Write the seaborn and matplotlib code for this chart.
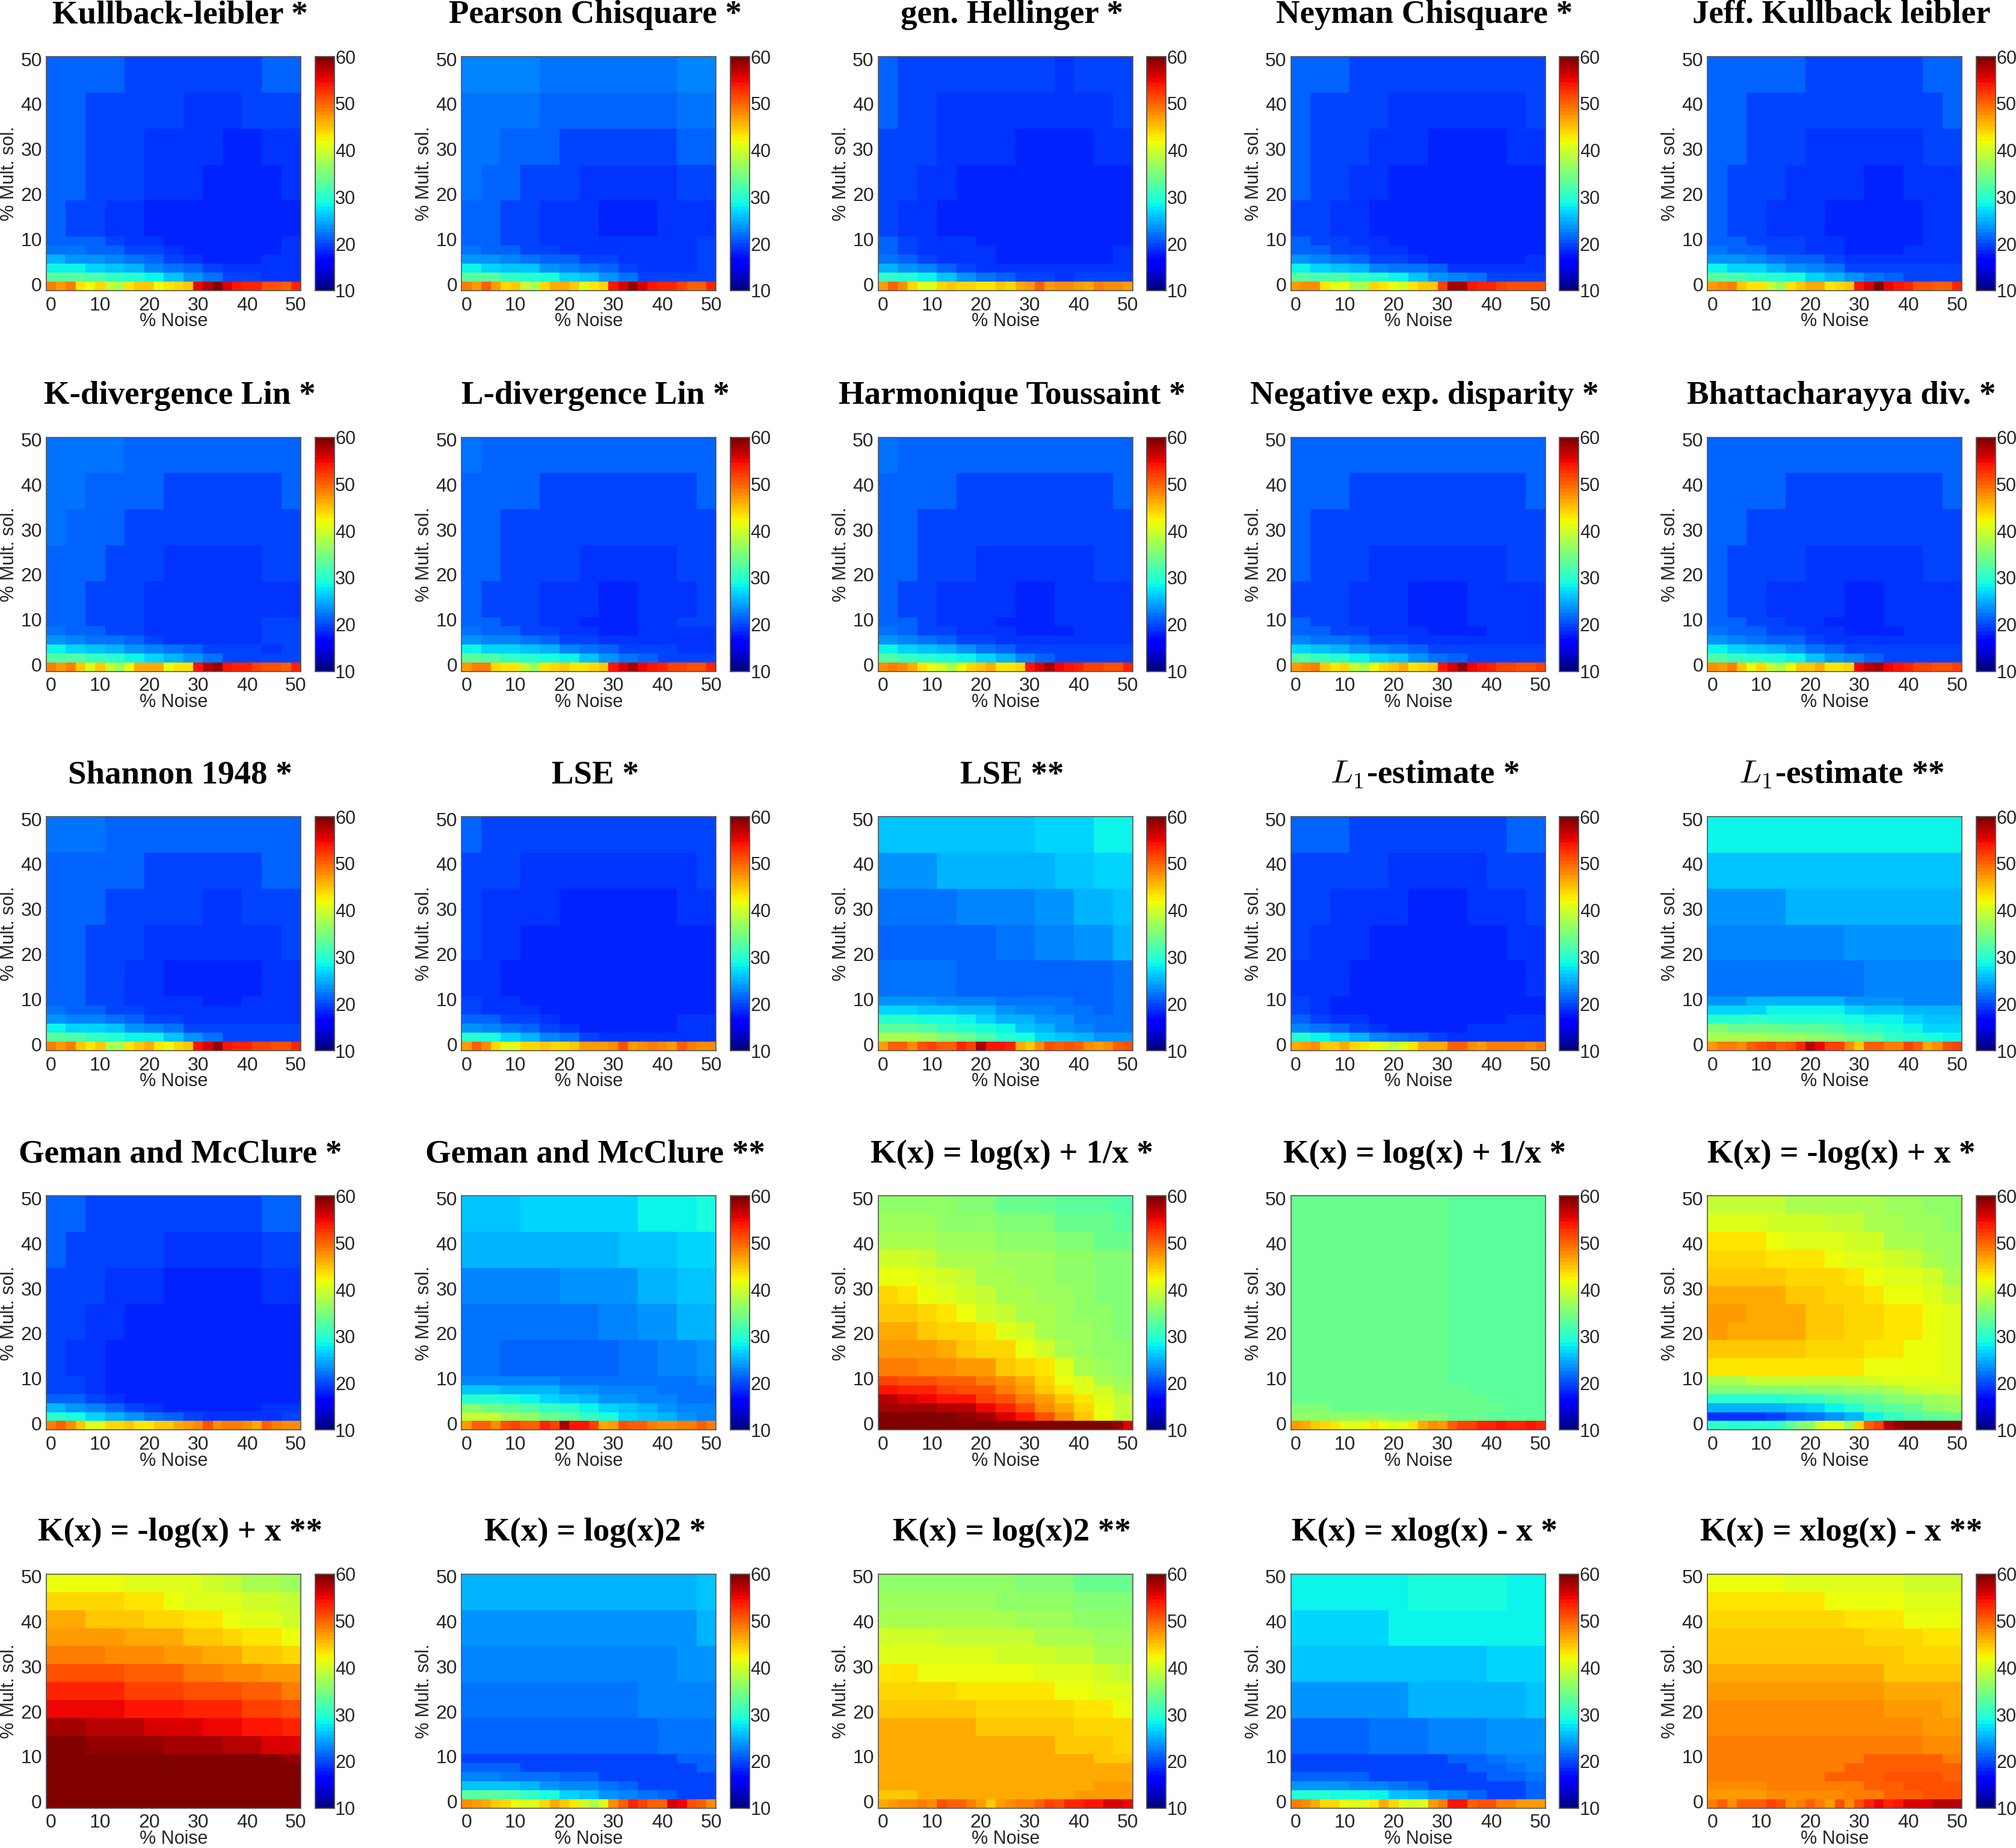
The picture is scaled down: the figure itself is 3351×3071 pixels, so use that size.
#!/usr/bin/env python
# grid of 25 robust estimator error maps, % noise vs % multiple solutions
import matplotlib
matplotlib.use('Agg')
import matplotlib.pyplot as plt
import numpy as np
import pandas as pd
import seaborn as sns

noise_levels = list(range(0, 52, 2))
mult_levels = list(range(50, -2, -2))
tick_values = [0, 10, 20, 30, 40, 50]
cbar_values = [10, 20, 30, 40, 50, 60]

titles = ['Kullback-leibler *', 'Pearson Chisquare *', 'gen. Hellinger *', 'Neyman Chisquare *', 'Jeff. Kullback leibler',
          'K-divergence Lin *', 'L-divergence Lin *', 'Harmonique Toussaint *', 'Negative exp. disparity *', 'Bhattacharayya div. *',
          'Shannon 1948 *', 'LSE *', 'LSE **', '$L_1$-estimate *', '$L_1$-estimate **',
          'Geman and McClure *', 'Geman and McClure **', 'K(x) = log(x) + 1/x *', 'K(x) = log(x) + 1/x *', 'K(x) = -log(x) + x *',
          'K(x) = -log(x) + x **', 'K(x) = log(x)2 *', 'K(x) = log(x)2 **', 'K(x) = xlog(x) - x *', 'K(x) = xlog(x) - x **']

# value along the 0 % multiple solutions row, one per noise level
edge_kullback = [49,47,49,43,42,44,39,38,43,45,45,42,43,44,45,55,57,60,56,54,53,53,51,51,50,53]
edge_pearson = [49,47,50,47,44,45,39,38,44,46,46,45,41,43,44,54,56,59,56,54,53,53,52,50,50,53]
edge_hellinger = [47,50,48,44,41,41,44,45,44,44,43,43,45,44,46,47,50,47,48,48,47,46,49,48,48,47]
edge_neyman = [47,48,48,43,41,42,38,38,44,43,42,40,43,45,45,52,58,58,54,53,53,52,51,51,51,51]
edge_jeff = [47,48,49,45,43,43,39,37,43,45,46,46,43,44,45,54,56,60,55,54,53,51,51,50,50,53]
edge_kdiv = [49,47,49,45,41,45,39,37,42,46,46,46,42,43,43,54,57,59,54,53,53,52,51,51,50,53]
edge_ldiv = [47,49,49,44,43,43,39,37,43,44,45,43,43,44,45,54,56,58,55,54,53,52,52,51,51,53]
edge_harm = [48,49,48,46,43,42,40,38,42,44,45,46,43,43,44,54,56,58,55,54,53,52,52,51,51,53]
edge_negexp = [47,48,49,45,43,44,39,38,42,44,45,46,43,44,45,54,56,59,55,54,53,52,52,51,51,52]
edge_bhatt = [48,47,49,45,42,44,39,38,42,45,45,46,43,43,44,55,57,58,55,54,53,52,52,51,51,52]
edge_shannon = [49,47,49,45,43,45,38,38,43,45,46,43,42,44,45,54,56,59,54,53,53,52,52,51,51,53]
edge_lse1 = [47,50,48,44,41,41,44,44,45,44,44,45,47,47,47,48,51,47,48,49,48,47,50,49,48,48]
edge_lse2 = [47,50,50,48,51,52,50,50,53,52,58,54,54,53,46,45,48,51,50,51,50,48,47,48,50,51]
edge_l1a = [46,47,48,45,45,46,44,43,42,41,39,41,43,46,46,46,50,50,48,47,49,49,49,49,48,49]
edge_l1b = [47,49,49,48,50,51,52,50,51,53,57,55,52,52,48,45,50,50,49,49,52,50,46,48,51,52]
edge_geman1 = [49,50,48,45,41,41,44,44,45,43,43,45,45,46,47,48,51,48,49,49,48,46,50,49,48,48]
edge_geman2 = [47,50,50,48,51,52,50,50,53,52,58,54,54,52,46,47,51,50,50,49,48,48,49,49,50,49]
edge_invlog1 = [60,60,60,60,60,60,60,60,60,60,60,60,60,60,60,60,60,60,60,60,60,60,60,60,59,56]
edge_invlog2 = [47,46,45,44,43,42,41,42,43,42,41,42,43,46,48,47,50,52,52,53,53,54,53,53,54,53]
edge_neglog1 = [30,31,30,30,30,31,30,31,33,35,36,40,42,41,37,44,50,52,57,59,60,60,60,60,60,60]
edge_neglog2 = [60,60,60,60,60,60,60,60,60,60,60,60,60,60,60,60,60,60,60,60,60,60,60,60,60,60]
edge_logsq1 = [48,47,46,45,44,42,41,41,44,46,45,43,40,38,41,48,50,53,52,50,50,56,55,51,50,48]
edge_logsq2 = [46,47,48,48,49,48,51,50,50,49,47,45,47,48,49,49,50,52,51,53,53,54,54,56,56,55]
edge_xlog1 = [49,48,46,44,44,42,41,41,43,46,44,41,40,41,47,49,54,54,50,51,51,49,49,47,47,47]
edge_xlog2 = [49,50,48,50,50,50,52,51,48,49,50,49,47,51,48,51,53,55,53,54,56,56,56,57,57,57]

# rest of each map, top row first, read in coarse blocks
body_kullback = [[21,21,21,21,20,20,20,20,20,20,20,21,21],[21,21,20,20,20,20,20,19,19,19,20,20,20],[21,21,20,20,20,19,19,19,19,18,18,19,19],[21,21,20,20,20,19,19,19,18,18,18,18,19],[21,20,20,19,19,18,18,18,18,18,18,18,18],
                 [21,21,21,20,19,19,18,18,18,18,18,18,19],[22,22,21,21,20,20,19,18,18,18,18,18,19],[25,24,24,23,22,21,20,19,18,18,18,19,19],[28,28,27,26,25,23,22,21,20,19,19,19,19],[33,33,32,31,30,28,26,24,22,20,20,19,19]]
body_pearson = [[23,23,23,23,22,22,22,22,22,22,22,23,23],[22,22,22,22,21,21,21,21,21,21,21,22,22],[22,22,21,21,21,20,20,20,20,20,20,21,21],[22,21,21,20,20,20,19,19,19,19,19,20,20],[21,21,20,20,19,19,19,18,18,18,19,19,19],
                [21,21,20,20,19,19,19,19,19,19,19,19,20],[22,21,21,20,20,19,19,19,19,19,19,19,20],[24,24,23,22,21,21,20,20,19,19,19,19,20],[28,27,26,26,24,23,22,21,20,19,19,19,20],[33,33,31,30,29,27,26,24,22,20,20,20,20]]
body_hellinger = [[21,20,20,20,20,20,20,20,20,19,20,20,20],[21,20,20,19,19,19,19,19,19,19,19,19,20],[20,20,20,19,19,19,19,18,18,18,18,19,19],[20,20,19,19,18,18,18,18,18,18,18,18,18],[20,19,19,18,18,18,18,18,18,18,18,18,18],
                  [21,20,19,19,19,18,18,18,18,18,18,18,18],[21,20,19,19,19,19,18,18,18,18,18,18,19],[22,21,20,19,19,19,18,18,18,18,18,18,19],[25,24,23,21,20,19,19,19,19,19,19,19,19],[31,30,28,26,24,22,21,20,20,19,20,20,20]]
body_neyman = [[21,21,21,20,20,20,20,20,20,20,20,20,20],[21,20,20,20,20,19,19,19,19,19,19,19,20],[21,20,20,20,19,19,19,18,18,18,18,19,19],[21,20,20,19,19,18,18,18,18,18,18,18,18],[20,20,19,19,18,18,18,18,18,18,18,18,18],
               [21,20,20,19,19,18,18,18,18,18,18,18,18],[21,21,20,20,19,19,18,18,18,18,18,18,18],[24,23,22,21,20,20,19,18,18,18,18,18,19],[28,27,26,25,23,22,22,21,19,19,19,19,19],[33,32,32,31,30,28,26,24,23,22,20,20,20]]
body_jeff = [[21,21,21,21,21,20,20,20,20,20,20,21,21],[21,21,20,20,20,20,20,20,20,20,20,20,21],[21,21,20,20,20,19,19,19,19,19,19,20,20],[21,20,20,20,19,19,19,19,18,18,19,19,19],[21,20,20,19,19,19,18,18,18,18,18,19,19],
             [21,21,20,20,20,19,19,18,18,18,18,19,19],[22,21,21,20,20,19,19,18,18,18,19,19,19],[24,24,23,22,21,21,20,19,19,19,19,19,19],[28,27,27,25,24,23,22,20,20,20,20,20,20],[33,32,31,30,29,27,25,24,22,21,20,20,20]]
body_kdiv = [[22,22,22,22,21,21,21,21,21,21,21,21,21],[22,22,21,21,21,21,20,20,20,20,20,20,21],[22,21,21,21,20,20,20,20,20,20,20,20,20],[21,21,21,20,20,20,19,19,19,19,19,20,20],[21,21,20,20,20,19,19,19,19,19,19,19,19],
             [21,21,20,20,20,19,19,19,19,19,19,20,20],[22,21,21,20,20,19,19,19,19,19,19,20,20],[24,23,22,22,21,20,19,19,19,19,19,20,20],[28,27,26,25,24,23,22,21,20,20,20,19,20],[32,32,31,30,28,27,25,24,22,20,20,20,20]]
body_ldiv = [[22,21,21,21,21,21,21,21,21,21,21,21,21],[21,21,21,21,20,20,20,20,20,20,20,20,21],[21,21,20,20,20,20,20,20,20,20,20,20,20],[21,21,20,20,20,20,19,19,19,19,19,20,20],[21,20,20,20,19,19,19,18,18,19,19,19,20],
             [21,21,20,20,19,19,18,18,18,19,19,20,20],[22,21,21,20,20,19,19,18,18,19,19,19,19],[24,23,23,22,21,20,20,19,19,19,19,19,19],[28,27,27,26,25,23,22,21,20,20,20,19,19],[33,32,31,30,29,28,26,24,22,21,20,20,20]]
body_harm = [[22,21,21,21,21,21,21,21,21,21,21,21,21],[21,21,21,21,20,20,20,20,20,20,20,20,21],[21,21,20,20,20,20,20,20,20,20,20,20,20],[21,21,20,20,20,19,19,19,19,19,19,20,20],[21,20,20,19,19,19,19,18,18,19,19,19,19],
             [21,21,20,19,19,19,18,18,18,19,19,19,19],[22,21,20,20,19,19,19,18,18,18,19,19,19],[24,23,22,21,20,20,19,19,19,19,19,19,19],[28,27,26,25,24,22,21,20,20,20,20,20,20],[32,31,30,29,28,27,25,23,21,20,20,20,20]]
body_negexp = [[21,21,21,21,21,21,21,21,21,21,21,21,21],[21,21,21,20,20,20,20,20,20,20,20,20,21],[21,20,20,20,20,20,20,20,20,20,20,20,20],[21,20,20,20,19,19,19,19,19,19,19,20,20],[20,20,20,19,19,19,18,18,18,19,19,19,19],
               [21,20,20,19,19,19,18,18,18,19,19,19,19],[21,21,20,20,19,19,19,18,18,18,19,19,19],[23,22,22,21,20,20,19,19,19,19,19,19,19],[27,26,25,24,23,22,21,20,20,20,20,20,20],[32,31,30,28,27,26,24,22,21,20,20,20,20]]
body_bhatt = [[21,21,21,21,21,21,21,21,21,21,21,21,21],[21,21,21,21,20,20,20,20,20,20,20,20,21],[21,21,20,20,20,20,20,20,20,20,20,20,20],[21,20,20,20,20,19,19,19,19,19,19,20,20],[21,20,20,19,19,19,19,18,18,19,19,19,19],
              [21,21,20,20,19,19,18,18,18,19,19,19,19],[22,21,21,20,20,19,19,18,18,18,19,19,19],[24,23,22,21,21,20,19,19,19,19,19,19,19],[28,27,26,25,24,22,21,20,20,20,20,20,20],[32,31,30,29,28,26,24,23,21,20,20,20,20]]
body_shannon = [[22,22,22,21,21,21,21,21,21,21,21,21,21],[21,21,21,21,21,20,20,20,20,20,20,21,21],[21,21,21,20,20,20,20,20,19,19,20,20,20],[21,21,20,20,20,19,19,19,19,19,19,19,20],[21,21,20,20,19,19,18,18,18,18,18,19,19],
                [21,21,20,20,19,19,19,19,18,18,19,19,19],[22,21,21,20,20,19,19,19,19,19,19,19,19],[24,23,23,22,21,20,20,19,19,19,19,19,19],[28,27,27,26,24,23,22,20,20,20,20,20,20],[33,32,31,30,28,28,26,24,22,20,20,20,20]]
body_lse1 = [[21,20,20,20,20,20,20,20,20,20,20,20,20],[20,20,20,19,19,19,19,19,19,19,19,19,20],[20,19,19,19,19,18,18,18,18,18,18,19,19],[20,19,19,18,18,18,18,18,18,18,18,18,18],[19,19,18,18,18,18,18,18,18,18,18,18,18],
             [20,19,19,18,18,18,18,18,18,18,18,18,18],[20,19,19,19,18,18,18,18,18,18,18,18,18],[21,21,20,20,19,18,18,18,18,18,18,19,19],[24,23,22,21,20,19,18,18,18,18,18,19,19],[30,29,27,25,23,22,20,19,19,19,19,19,19]]
body_lse2 = [[26,26,26,26,26,26,26,26,27,27,27,28,28],[24,24,24,25,25,25,25,25,25,26,26,27,27],[22,22,22,22,23,23,23,23,24,24,25,25,26],[21,21,21,21,21,21,22,22,23,23,24,24,25],[22,22,22,22,21,21,21,21,21,21,21,21,22],
             [24,24,24,23,23,23,22,22,22,22,21,21,22],[27,27,26,26,25,25,24,23,23,22,22,21,22],[30,30,29,29,28,27,25,25,24,24,22,22,22],[33,33,32,31,30,29,28,26,25,24,23,22,22],[38,38,37,35,34,32,30,29,27,26,25,24,24]]
body_l1a = [[21,21,21,20,20,20,20,20,20,20,20,21,21],[20,20,20,20,20,19,19,19,19,19,20,20,20],[20,20,19,19,19,19,18,18,18,19,19,19,20],[20,19,19,19,18,18,18,18,18,18,18,19,19],[19,19,19,18,18,18,18,18,18,18,18,18,19],
            [20,19,18,18,18,18,18,18,18,18,18,18,18],[20,19,18,18,18,18,18,18,18,18,18,18,18],[21,20,19,19,18,18,18,18,18,18,18,19,19],[23,22,21,20,19,18,18,18,18,19,19,19,19],[30,28,27,25,23,22,21,20,19,19,19,19,19]]
body_l1b = [[28,28,28,28,28,28,28,28,28,28,28,28,28],[26,26,26,26,26,26,26,26,26,26,26,26,26],[24,24,24,24,25,25,25,25,25,25,25,25,25],[23,23,23,23,23,23,23,24,24,24,24,24,24],[22,22,22,22,22,22,22,22,23,23,23,23,23],
            [24,24,25,25,25,25,25,24,24,24,23,23,23],[27,27,27,28,28,28,28,27,26,26,25,25,25],[30,30,31,30,30,30,30,29,28,28,27,26,26],[35,34,34,34,33,33,32,31,30,29,28,27,27],[38,38,38,37,37,36,35,34,33,31,30,29,28]]
body_geman1 = [[21,21,20,20,20,20,20,20,20,20,20,21,21],[21,20,20,20,20,20,19,19,19,19,19,20,20],[20,20,20,19,19,19,18,18,18,18,18,19,19],[20,20,19,19,18,18,18,18,18,18,18,18,18],[20,19,19,18,18,18,18,18,18,18,18,18,18],
               [20,20,19,18,18,18,18,18,18,18,18,18,18],[20,20,19,18,18,18,18,18,18,18,18,18,18],[21,21,20,19,18,18,18,18,18,18,18,18,18],[25,24,23,21,20,19,18,18,18,18,18,19,19],[30,29,27,25,24,22,21,20,19,19,19,19,20]]
body_geman2 = [[26,26,26,27,27,27,27,27,27,28,28,28,29],[25,25,25,25,25,25,25,25,26,26,26,27,27],[23,23,23,23,23,24,24,24,24,25,25,26,26],[22,22,22,22,22,22,22,23,23,24,24,25,25],[22,22,21,21,21,21,21,21,22,22,23,23,24],
               [23,23,23,23,23,22,22,22,22,22,22,22,23],[26,26,25,25,25,24,24,23,23,23,22,22,22],[30,30,29,28,27,26,25,24,24,23,23,22,22],[35,34,33,32,31,30,28,27,26,25,24,23,23],[39,39,37,36,34,33,31,29,27,26,25,24,23]]
body_invlog1 = [[36,36,36,36,35,35,34,34,34,33,33,33,32],[37,37,37,36,36,36,35,35,35,34,34,34,33],[38,38,38,37,37,37,36,36,36,35,35,34,34],[40,40,39,38,38,38,37,37,37,36,36,35,35],[42,42,41,40,39,38,38,37,37,36,36,35,35],
                [44,43,42,41,40,39,38,38,37,37,36,35,35],[45,45,44,43,42,40,39,38,38,37,36,36,35],[46,46,45,44,44,43,41,40,38,37,37,36,35],[47,47,47,46,45,44,44,42,40,38,37,36,36],[49,49,48,48,47,47,45,44,43,41,38,37,36],
                [52,51,51,50,50,49,48,46,44,42,41,38,37],[54,53,53,52,51,51,49,47,45,43,41,40,38],[57,56,55,54,54,52,51,49,47,45,43,41,39],[58,58,58,57,57,55,53,51,48,46,44,42,39],[60,60,60,60,59,58,56,54,51,48,45,42,39]]
body_invlog2 = [[34,34,34,34,34,34,34,34,33,33,33,33,33],[34,34,34,34,34,34,34,34,33,33,33,33,33],[34,34,34,34,34,34,34,34,33,33,33,33,33],[34,34,34,34,34,34,34,34,33,33,33,33,33],[34,34,34,34,34,34,34,34,33,33,33,33,33],
                [34,34,34,34,34,34,34,34,33,33,33,33,33],[34,34,34,34,34,34,34,34,34,33,33,33,33],[34,34,34,34,34,34,34,34,34,34,33,33,33],[35,35,34,34,34,34,34,34,34,34,34,33,33],[36,36,36,36,36,35,35,35,34,34,33,33,33]]
body_neglog1 = [[39,39,39,39,38,38,38,38,38,37,37,36,36],[41,41,41,40,40,40,39,39,38,38,37,37,36],[43,43,43,42,41,41,41,40,40,38,38,37,37],[44,44,44,43,43,43,42,41,41,40,39,38,37],[45,45,45,45,44,44,44,43,42,41,41,40,38],
                [46,46,46,46,45,45,44,44,43,42,42,41,39],[47,47,46,46,46,45,45,44,44,43,43,42,41],[47,46,46,46,46,45,45,44,44,43,43,42,41],[45,45,45,45,45,44,44,44,43,43,42,42,41],[43,43,43,43,43,43,43,43,42,42,42,42,41],
                [38,38,39,39,39,39,39,39,40,41,41,41,41],[35,35,35,35,35,36,36,37,37,38,39,40,40],[30,30,30,30,31,31,32,33,34,35,36,37,38],[25,25,25,25,26,27,28,30,32,33,34,36,37],[19,19,19,20,21,22,24,25,28,31,32,33,34]]
body_neglog2 = [[42,42,42,42,41,41,41,41,40,39,38,38,37],[44,44,44,44,43,43,42,41,41,41,40,40,39],[46,46,45,45,45,44,44,43,43,42,41,41,40],[47,47,47,47,46,46,46,45,45,44,43,43,42],[49,49,49,48,48,48,47,47,46,46,45,45,44],
                [51,51,51,51,50,50,50,49,49,48,48,47,47],[53,53,53,53,52,52,52,51,51,51,50,50,49],[55,55,55,55,54,54,54,53,53,53,52,52,51],[58,58,57,57,57,56,56,56,55,55,54,54,53],[60,60,59,59,59,59,58,58,58,57,57,56,56],
                [60,60,60,60,60,60,60,60,60,60,60,60,59],[60,60,60,60,60,60,60,60,60,60,60,60,60],[60,60,60,60,60,60,60,60,60,60,60,60,60],[60,60,60,60,60,60,60,60,60,60,60,60,60],[60,60,60,60,60,60,60,60,60,60,60,60,60]]
body_logsq1 = [[25,25,25,25,25,25,25,25,25,25,25,25,26],[24,24,24,24,24,24,24,24,24,24,24,24,25],[23,23,23,23,23,23,23,23,23,23,23,24,24],[22,22,22,22,22,22,22,22,22,23,23,23,23],[21,21,21,21,21,21,21,21,21,21,22,22,22],
               [20,20,20,20,20,20,20,20,20,20,20,21,21],[21,21,21,20,20,20,20,20,20,20,20,20,21],[23,23,22,22,22,21,21,20,20,20,20,20,20],[26,26,26,25,24,23,23,22,21,20,20,20,20],[33,33,32,31,29,27,26,24,23,22,21,20,20]]
body_logsq2 = [[36,36,36,36,36,36,36,35,35,35,34,34,34],[37,37,37,37,37,37,36,36,36,36,35,35,35],[38,38,38,38,38,38,38,37,37,37,36,36,36],[40,40,40,39,39,39,39,39,38,38,38,37,37],[41,41,41,41,41,41,40,40,40,39,39,38,38],
               [43,43,42,42,42,42,42,42,41,41,41,40,39],[44,44,44,44,43,43,43,43,43,42,42,41,41],[45,45,45,45,45,44,44,44,44,44,43,43,42],[46,46,46,46,46,45,45,45,45,45,44,44,44],[46,46,46,46,46,46,46,46,46,45,45,45,44],
               [46,46,46,46,46,46,46,46,46,46,46,45,45],[46,46,46,46,46,46,46,46,46,46,46,46,46],[46,46,46,46,46,46,46,46,46,46,46,46,46],[46,46,46,46,46,46,46,46,46,46,46,47,47],[45,45,46,46,46,46,46,46,46,46,47,47,47]]
body_xlog1 = [[28,28,28,28,28,28,29,29,29,29,29,28,28],[27,27,27,27,27,28,28,28,28,28,28,28,28],[26,26,26,26,26,26,26,26,26,26,27,27,27],[24,24,24,24,24,24,25,25,25,25,25,25,26],[21,21,21,21,22,22,22,23,23,23,24,24,24],
              [20,20,20,20,20,20,20,20,21,21,22,23,23],[20,20,20,20,20,20,20,20,20,21,21,22,23],[21,21,21,21,20,20,20,20,20,20,21,21,22],[24,24,24,23,23,22,21,20,20,20,20,20,21],[30,30,29,29,28,26,25,24,23,21,20,20,21]]
body_xlog2 = [[42,42,42,42,41,41,41,41,41,41,40,40,40],[43,43,43,43,43,43,42,42,42,42,41,41,41],[44,44,44,44,44,44,44,43,43,43,42,42,42],[45,45,45,45,45,45,45,45,44,44,44,43,43],[45,45,45,45,45,45,45,45,45,45,44,44,44],
              [46,46,46,46,46,46,46,46,46,45,45,45,45],[47,47,47,47,47,47,47,47,47,46,46,46,46],[48,48,48,48,48,48,48,48,48,47,47,47,46],[48,48,48,48,48,48,48,48,48,48,48,47,47],[49,49,49,49,49,49,49,49,49,49,49,48,48],
              [49,49,49,49,49,49,49,49,50,50,50,50,49],[49,49,49,49,49,49,49,50,50,50,50,50,50],[49,49,49,49,49,49,50,50,50,51,51,51,50],[48,48,48,49,49,49,49,49,50,50,51,51,51],[47,47,47,48,48,48,48,49,49,50,50,51,51]]

edges = [edge_kullback, edge_pearson, edge_hellinger, edge_neyman, edge_jeff,
         edge_kdiv, edge_ldiv, edge_harm, edge_negexp, edge_bhatt,
         edge_shannon, edge_lse1, edge_lse2, edge_l1a, edge_l1b,
         edge_geman1, edge_geman2, edge_invlog1, edge_invlog2, edge_neglog1,
         edge_neglog2, edge_logsq1, edge_logsq2, edge_xlog1, edge_xlog2]
bodies = [body_kullback, body_pearson, body_hellinger, body_neyman, body_jeff,
          body_kdiv, body_ldiv, body_harm, body_negexp, body_bhatt,
          body_shannon, body_lse1, body_lse2, body_l1a, body_l1b,
          body_geman1, body_geman2, body_invlog1, body_invlog2, body_neglog1,
          body_neglog2, body_logsq1, body_logsq2, body_xlog1, body_xlog2]

sns.set_style('white')
plt.rcParams['font.family'] = ['Liberation Sans', 'DejaVu Sans']
plt.rcParams['mathtext.fontset'] = 'cm'

W, H = 1568.0, 1437.0   # layout worked out on the scaled view of the figure
lefts = [36, 359, 683, 1004, 1328]
tops = [44, 340, 635, 930, 1224]
ax_w, ax_h = 198, 182
cax_gap, cax_w = 11, 15

jet64 = plt.get_cmap('jet', 64)
edge_col = '#555555'


def build_frame(edge, body):
    # coarse blocks cover 25 rows, thin rows near the bottom
    if len(body) == 10:
        spans = [4] * 5 + [1] * 5
    else:
        spans = [2] * 10 + [1] * 5
    upper = np.repeat(np.repeat(np.array(body), spans, axis=0), 2, axis=1)
    grid = np.vstack([upper, edge])
    return pd.DataFrame(grid, index=mult_levels, columns=noise_levels)


fig = plt.figure(figsize=(33.51, 30.71), dpi=100)

for i in range(25):
    row, col = divmod(i, 5)
    x0, y0 = lefts[col], tops[row]
    ax = fig.add_axes([x0 / W, 1 - (y0 + ax_h) / H, ax_w / W, ax_h / H])
    cax = fig.add_axes([(x0 + ax_w + cax_gap) / W, 1 - (y0 + ax_h) / H, cax_w / W, ax_h / H])
    sns.heatmap(build_frame(edges[i], bodies[i]), ax=ax, cbar_ax=cax, vmin=10, vmax=60,
                cmap=jet64, linewidths=0, rasterized=True)

    ax.set_xticks([noise_levels.index(v) + 0.5 for v in tick_values])
    ax.set_xticklabels(tick_values, rotation=0)
    ax.set_yticks([mult_levels.index(v) + 0.5 for v in tick_values])
    ax.set_yticklabels(tick_values, rotation=0, va='center')
    ax.tick_params(axis='both', which='major', direction='in', length=6, width=1.1, color='#222222',
                   labelsize=23, top=True, right=True, bottom=True, left=True)
    ax.tick_params(axis='x', pad=7)
    ax.tick_params(axis='y', pad=5)
    ax.set_xlabel('% Noise', fontsize=22)
    ax.set_ylabel('% Mult. sol.', fontsize=22)
    ax.xaxis.set_label_coords(0.5, -24 / ax_h, transform=ax.transAxes)
    ax.yaxis.set_label_coords(-29 / ax_w, 0.5, transform=ax.transAxes)
    ax.xaxis.label.set_va('center')
    ax.yaxis.label.set_va('center')
    for spine in ax.spines.values():
        spine.set_visible(True)
        spine.set_color(edge_col)
        spine.set_linewidth(1.2)

    cax.set_yticks(cbar_values)
    cax.set_yticklabels(cbar_values)
    cax.tick_params(axis='y', direction='in', length=5, width=1.1, color='#222222', labelsize=22,
                    left=True, right=True, pad=1)
    for spine in cax.spines.values():
        spine.set_visible(True)
        spine.set_color(edge_col)
        spine.set_linewidth(1.1)

    fig.text((x0 + ax_w / 2 + 5) / W, 1 - (y0 - 26) / H, titles[i], ha='center', va='baseline',
             family='Liberation Serif', weight='bold', fontsize=39.5, color='black')

fig.savefig('out.png', dpi=100)
